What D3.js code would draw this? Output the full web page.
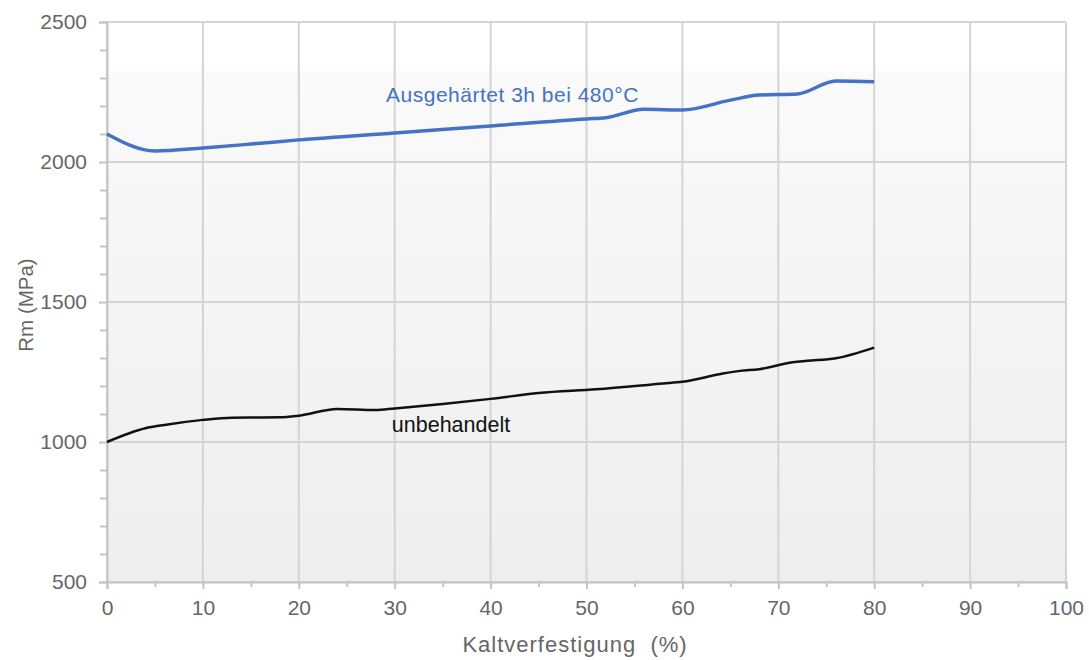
<!DOCTYPE html>
<html>
<head>
<meta charset="utf-8">
<script src="https://cdn.jsdelivr.net/npm/d3@7"></script>
<style>
  body { margin: 0; background: #fff; }
  svg { font-family: "Liberation Sans", Arial, sans-serif; }
</style>
</head>
<body>
<svg id="chart" width="1089" height="660"></svg>
<script>
// Kaltverfestigung (%) values for each curve
const xHard = [0, 5, 10, 15, 20, 30, 40, 50, 52, 56, 60, 65, 68, 72, 76, 80];
const rmHard = [2100, 2039, 2050, 2064, 2079, 2104, 2129, 2154, 2158, 2188, 2186, 2221, 2239, 2243, 2289, 2287];

const xRaw = [0, 4, 6, 10, 13, 18, 20, 24, 28, 30, 35, 40, 45, 51, 58, 60, 64, 66, 68, 71.5, 73, 76, 80];
const rmRaw = [1000, 1049, 1061, 1079, 1087, 1088, 1094, 1118, 1114, 1120, 1136, 1154, 1175, 1188, 1209, 1215, 1243, 1254, 1260, 1285, 1290, 1299, 1337];

const xTicks = [0, 10, 20, 30, 40, 50, 60, 70, 80, 90, 100];
const yTicks = [500, 1000, 1500, 2000, 2500];

const svg = d3.select("#chart");
const pLeft = 107, pRight = 1066, pTop = 22, pBottom = 582;

const x = d3.scaleLinear().domain([0, 100]).range([pLeft, pRight]);
const y = d3.scaleLinear().domain([500, 2500]).range([pBottom, pTop]);

// background gradient of the plot area
const grad = svg.append("defs").append("linearGradient")
  .attr("id", "bg").attr("x1", 0).attr("y1", 0).attr("x2", 0).attr("y2", 1);
grad.append("stop").attr("offset", "0%").attr("stop-color", "#ffffff");
grad.append("stop").attr("offset", "7%").attr("stop-color", "#ffffff");
grad.append("stop").attr("offset", "10%").attr("stop-color", "#fafafa");
grad.append("stop").attr("offset", "100%").attr("stop-color", "#eeeeee");

svg.append("rect")
  .attr("x", pLeft).attr("y", pTop)
  .attr("width", pRight - pLeft).attr("height", pBottom - pTop)
  .attr("fill", "url(#bg)");

// grid
svg.append("g").selectAll("line").data(xTicks).join("line")
  .attr("x1", d => x(d)).attr("x2", d => x(d))
  .attr("y1", pTop).attr("y2", pBottom)
  .attr("stroke", "#d4d4d4").attr("stroke-width", 2);

svg.append("g").selectAll("line").data(yTicks).join("line")
  .attr("x1", pLeft).attr("x2", pRight)
  .attr("y1", d => y(d)).attr("y2", d => y(d))
  .attr("stroke", "#d4d4d4").attr("stroke-width", 2);

// axes
svg.append("g")
  .attr("transform", `translate(0,${pBottom})`)
  .call(d3.axisBottom(x).tickValues(xTicks).tickSize(7).tickPadding(11).tickFormat(d3.format("d")));
svg.append("g")
  .attr("transform", `translate(0,${pBottom})`)
  .call(d3.axisBottom(x).tickValues(d3.range(5, 100, 10)).tickSize(5).tickFormat(""))
  .call(g => g.select(".domain").remove());

svg.append("g")
  .attr("transform", `translate(${pLeft},0)`)
  .call(d3.axisLeft(y).tickValues(yTicks).tickSize(8).tickPadding(12).tickFormat(d3.format("d")));
svg.append("g")
  .attr("transform", `translate(${pLeft},0)`)
  .call(d3.axisLeft(y).tickValues(d3.range(600, 2500, 100).filter(v => v % 500 !== 0)).tickSize(7).tickFormat(""))
  .call(g => g.select(".domain").remove());

svg.selectAll(".domain").attr("stroke", "#c4c4c4").attr("stroke-width", 2);
svg.selectAll(".tick line").attr("stroke", "#c4c4c4").attr("stroke-width", 2);
svg.selectAll(".tick text").attr("fill", "#666").attr("font-size", 21);

// axis titles
svg.append("text")
  .attr("x", 575).attr("y", 652)
  .attr("text-anchor", "middle")
  .attr("fill", "#666").attr("font-size", 22).attr("letter-spacing", 1)
  .attr("xml:space", "preserve")
  .text("Kaltverfestigung  (%)");

svg.append("text")
  .attr("transform", "translate(33,305) rotate(-90)")
  .attr("text-anchor", "middle")
  .attr("fill", "#666").attr("font-size", 20.5)
  .text("Rm (MPa)");

// curves
const line = d3.line().curve(d3.curveMonotoneX)
  .x(d => x(d[0])).y(d => y(d[1]));

svg.append("path")
  .datum(d3.zip(xHard, rmHard))
  .attr("d", line)
  .attr("fill", "none").attr("stroke", "#4472c4").attr("stroke-width", 3.5);

svg.append("path")
  .datum(d3.zip(xRaw, rmRaw))
  .attr("d", line)
  .attr("fill", "none").attr("stroke", "#111").attr("stroke-width", 2.5);

// labels
svg.append("text")
  .attr("x", x(29.1)).attr("y", y(2214))
  .attr("fill", "#4472c4").attr("font-size", 21).attr("letter-spacing", 0.5)
  .text("Ausgehärtet 3h bei 480°C");

svg.append("text")
  .attr("x", x(29.7)).attr("y", y(1037))
  .attr("fill", "#111").attr("font-size", 21.5)
  .text("unbehandelt");
</script>
</body>
</html>
